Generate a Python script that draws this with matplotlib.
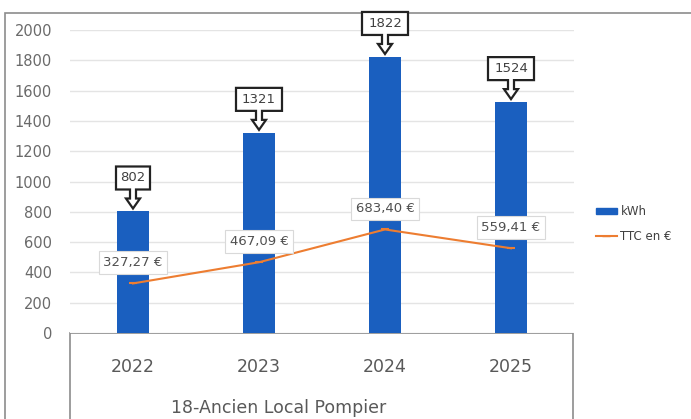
import matplotlib.pyplot as plt
from matplotlib.patches import Rectangle, Polygon
from matplotlib.lines import Line2D
from matplotlib.transforms import Affine2D

years = ['2022', '2023', '2024', '2025']
kwh = [802, 1321, 1822, 1524]
ttc = [327.27, 467.09, 683.40, 559.41]
ttc_labels = ['327,27 €', '467,09 €', '683,40 €', '559,41 €']
title = '18-Ancien Local Pompier'

plt.rcParams['font.family'] = ['DejaVu Sans']
W, H = 691, 419
fig = plt.figure(figsize=(W / 100, H / 100), dpi=100)

# outer chart border (cut off at right/bottom)
fig.add_artist(Rectangle((5 / W, -0.1), 1.2, 1 - 13 / H + 0.1, transform=fig.transFigure,
                         fill=False, edgecolor='#8c8c8c', lw=1.2, zorder=-1))

ax = fig.add_axes([70 / W, 1 - 333 / H, 504 / W, 303 / H])
x = list(range(len(years)))
ax.bar(x, kwh, width=0.26, color='#1a5fbf', zorder=2)
ax.plot(x, ttc, color='#ed7d31', lw=1.5, marker='_', ms=6, mew=1.5, zorder=3)

ax.set_xlim(-0.5, 3.5)
ax.set_ylim(0, 2000)
ax.set_yticks(range(0, 2001, 200))
ax.grid(axis='y', color='#e4e4e4', lw=1, zorder=0)
for s in ax.spines.values():
    s.set_visible(False)
ax.tick_params(axis='y', length=0, labelsize=10.5, labelcolor='#6a6a6a', pad=13)
ax.set_xticks(x)
ax.set_xticklabels(years)
ax.tick_params(axis='x', length=0, labelsize=12.5, labelcolor='#595959', pad=18)

# category box below the plot
fig.add_artist(Rectangle((70 / W, -0.1), 503 / W, 1 - 333 / H + 0.1, transform=fig.transFigure,
                         fill=False, edgecolor='#8c8c8c', lw=1.2, zorder=-1))
fig.text(279 / W, 1 - 408 / H, title, ha='center', va='center', fontsize=12.5, color='#595959')

# kWh callouts: box with a down arrow, drawn in pixels above each bar top
for xi, v in zip(x, kwh):
    px, py = ax.transData.transform((xi, v))
    hw = (12 * len(str(v)) - 2) / 2
    shape = [(0, 3), (7, 13), (3, 13), (3, 22), (hw, 22), (hw, 45), (-hw, 45),
             (-hw, 22), (-3, 22), (-3, 13), (-7, 13)]
    ax.add_patch(Polygon(shape, closed=True, fc='white', ec='#222222', lw=1.6,
                         transform=Affine2D().translate(px, py), zorder=5, clip_on=False))
    ax.annotate(str(v), xy=(xi, v), xytext=(0, 33.5 * 0.72), textcoords='offset points',
                ha='center', va='center', fontsize=9.5, color='#404040', zorder=6,
                annotation_clip=False)

# price labels
for xi, v, lab in zip(x, ttc, ttc_labels):
    ax.annotate(lab, xy=(xi, v), xytext=(0, 15), textcoords='offset points',
                ha='center', va='center', fontsize=9.5, color='#505050', zorder=5,
                bbox=dict(boxstyle='square,pad=0.35', fc='white', ec='#d9d9d9', lw=0.8))

handles = [Rectangle((0, 0), 1, 1, color='#1a5fbf'),
           Line2D([], [], color='#ed7d31', lw=1.5, marker='_', ms=6)]
fig.legend(handles, ['kWh', 'TTC en €'], loc='center left', bbox_to_anchor=(585 / W, 1 - 224 / H),
           frameon=False, fontsize=8.5, labelcolor='#404040', handlelength=1.8, handleheight=0.5,
           handletextpad=0.3, labelspacing=1.0)

fig.savefig('out.png', dpi=100)
